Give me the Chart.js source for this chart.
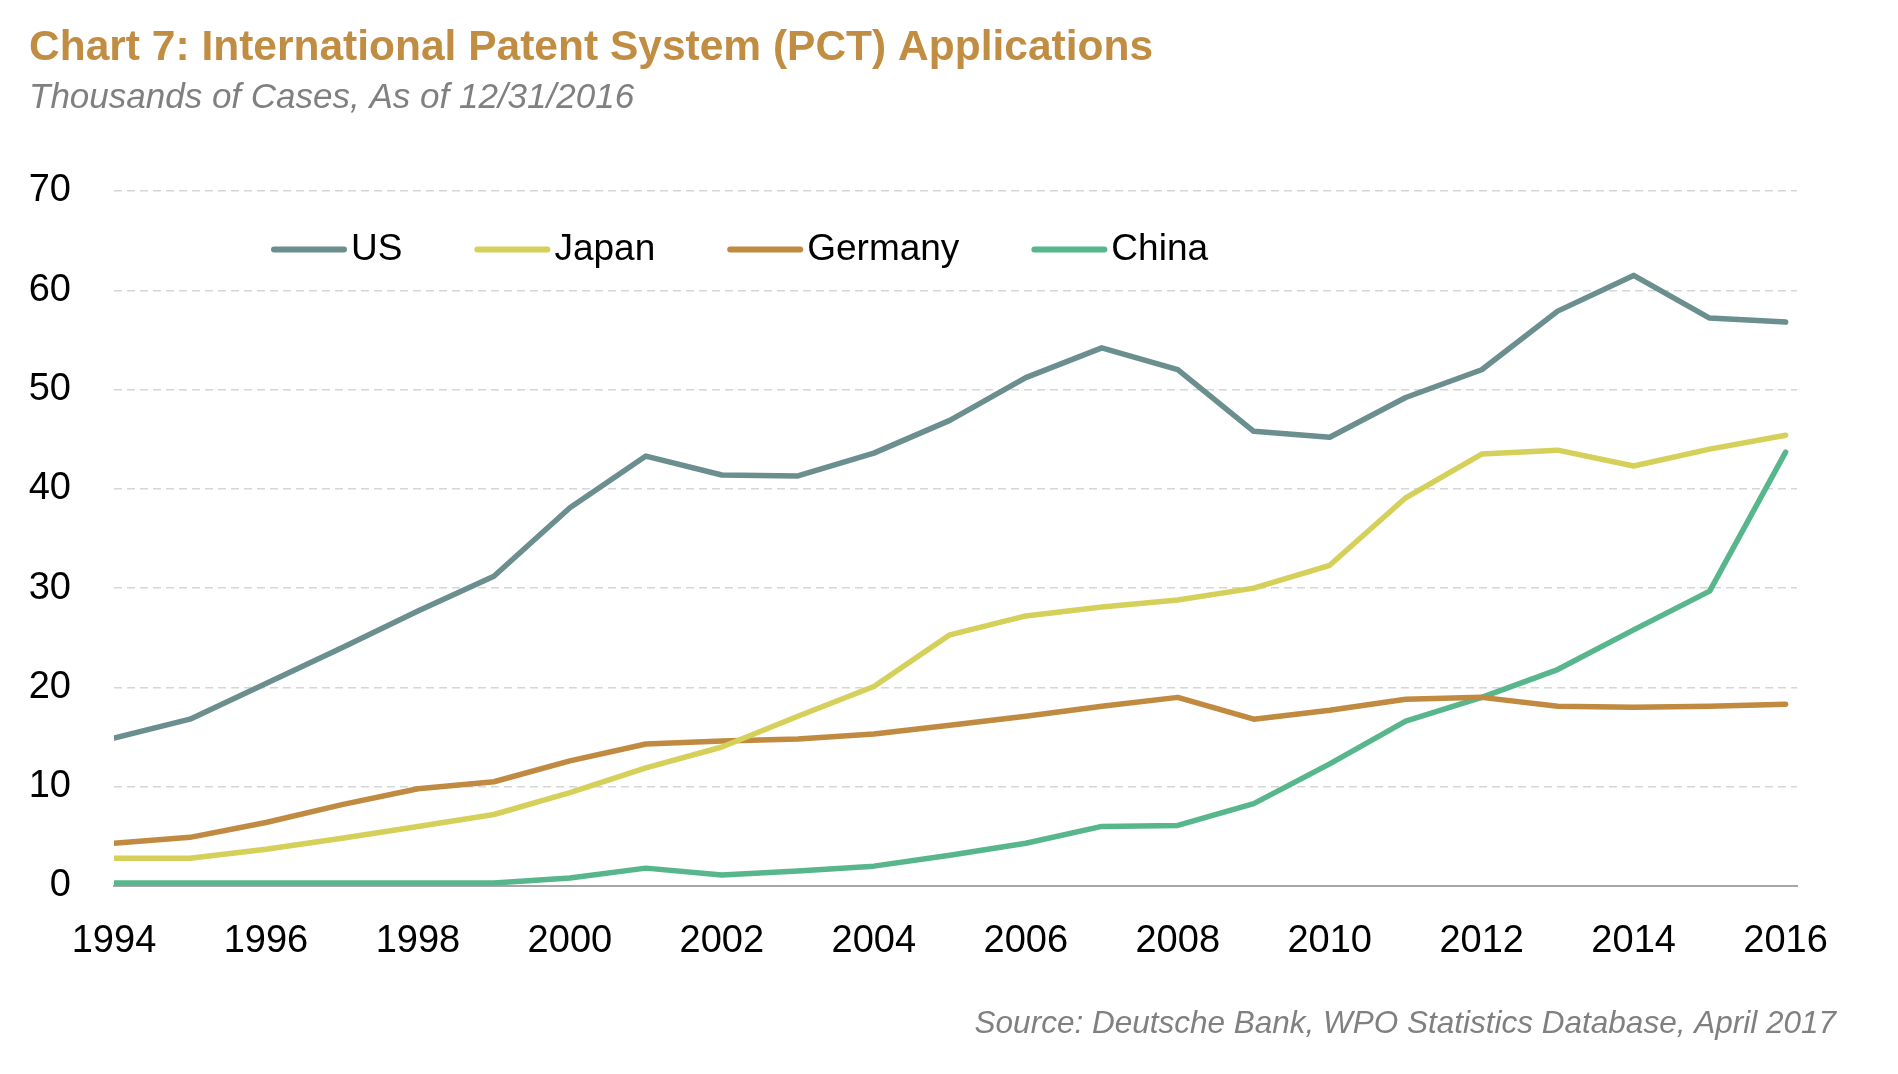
<!DOCTYPE html>
<html>
<head>
<meta charset="utf-8">
<title>PCT Applications</title>
<script src="https://cdn.jsdelivr.net/npm/chart.js@4.4.1/dist/chart.umd.min.js"></script>
<style>
  html, body { margin: 0; padding: 0; background: #fff; }
  #wrap { width: 1898px; height: 1074px; position: relative; }
</style>
</head>
<body>
<div id="wrap"><canvas id="lineChart"></canvas></div>
<script>
const years = [1994, 1995, 1996, 1997, 1998, 1999, 2000, 2001, 2002, 2003, 2004, 2005,
    2006, 2007, 2008, 2009, 2010, 2011, 2012, 2013, 2014, 2015, 2016];

const us = [14.9, 16.8, 20.4, 24.0, 27.7, 31.2, 38.1, 43.3, 41.4, 41.3, 43.6, 46.9,
    51.2, 54.2, 52.0, 45.8, 45.2, 49.2, 52.0, 57.9, 61.5, 57.2, 56.8];
const japan = [2.8, 2.8, 3.7, 4.8, 6.0, 7.2, 9.4, 11.9, 14.0, 17.1, 20.1, 25.3,
    27.2, 28.1, 28.8, 30.0, 32.3, 39.1, 43.5, 43.9, 42.3, 44.0, 45.4];
const germany = [4.3, 4.9, 6.4, 8.2, 9.8, 10.5, 12.6, 14.3, 14.6, 14.8, 15.3, 16.2,
    17.1, 18.1, 19.0, 16.8, 17.7, 18.8, 19.0, 18.1, 18.0, 18.1, 18.3];
const china = [0.3, 0.3, 0.3, 0.3, 0.3, 0.3, 0.8, 1.8, 1.1, 1.5, 2.0, 3.1,
    4.3, 6.0, 6.1, 8.3, 12.3, 16.6, 19.0, 21.8, 25.8, 29.7, 43.7];

const xTicks = [1994, 1996, 1998, 2000, 2002, 2004, 2006, 2008, 2010, 2012, 2014, 2016];
const yTicks = [0, 10, 20, 30, 40, 50, 60, 70];

const titleText = 'Chart 7: International Patent System (PCT) Applications';
const subtitleText = 'Thousands of Cases, As of 12/31/2016';
const sourceText = 'Source: Deutsche Bank, WPO Statistics Database, April 2017';

const FONT = '"Liberation Sans", Arial, sans-serif';
Chart.defaults.font.family = FONT;

function pairs(values) {
    return values.map((v, i) => ({ x: years[i], y: v }));
}

// legend sits inside the plot, between the 70 and 60 lines
const insideLegend = {
    id: 'insideLegend',
    afterDraw(chart) {
        const ctx = chart.ctx;
        const y = chart.scales.y.getPixelForValue(64.1);
        let x = chart.chartArea.left + 157;
        ctx.save();
        ctx.font = '37px ' + FONT;
        ctx.textBaseline = 'middle';
        ctx.textAlign = 'left';
        chart.data.datasets.forEach(ds => {
            ctx.strokeStyle = ds.borderColor;
            ctx.lineWidth = 6;
            ctx.lineCap = 'round';
            ctx.beginPath();
            ctx.moveTo(x + 3, y);
            ctx.lineTo(x + 73, y);
            ctx.stroke();
            x += 80;
            ctx.fillStyle = '#000';
            ctx.fillText(ds.label, x, y);
            x += ctx.measureText(ds.label).width + 72;
        });
        ctx.restore();
    }
};

const sourceNote = {
    id: 'sourceNote',
    afterDraw(chart) {
        const ctx = chart.ctx;
        ctx.save();
        ctx.font = 'italic 31.5px ' + FONT;
        ctx.fillStyle = '#808080';
        ctx.textAlign = 'right';
        ctx.textBaseline = 'middle';
        ctx.fillText(sourceText, chart.width - 62, chart.height - 50);
        ctx.restore();
    }
};

const lineChart = document.getElementById('lineChart');

new Chart(lineChart, {
    type: 'line',
    data: {
        datasets: [
            { label: 'US', data: pairs(us), borderColor: '#6B8E8E' },
            { label: 'Japan', data: pairs(japan), borderColor: '#D4D05A' },
            { label: 'Germany', data: pairs(germany), borderColor: '#C08A40' },
            { label: 'China', data: pairs(china), borderColor: '#57B68C' }
        ]
    },
    options: {
        responsive: true,
        maintainAspectRatio: false,
        animation: false,
        elements: {
            line: { borderWidth: 5.5, tension: 0, borderCapStyle: 'round', borderJoinStyle: 'round' },
            point: { radius: 0, hoverRadius: 0 }
        },
        layout: { padding: { top: 23, left: 29, right: 101, bottom: 111 } },
        plugins: {
            legend: { display: false },
            tooltip: { enabled: false },
            title: {
                display: true,
                text: titleText,
                align: 'start',
                color: '#C18D42',
                font: { size: 42.5, weight: 'bold' },
                padding: { top: 0, bottom: 0 }
            },
            subtitle: {
                display: true,
                text: subtitleText,
                align: 'start',
                color: '#808080',
                font: { size: 35, style: 'italic' },
                padding: { top: 3, bottom: 72 }
            }
        },
        scales: {
            x: {
                type: 'linear',
                min: 1994,
                max: 2016.15,
                afterBuildTicks: axis => { axis.ticks = xTicks.map(v => ({ value: v })); },
                afterFit: axis => { axis.height = 77; },
                grid: { display: false, drawTicks: false },
                border: { display: true, color: '#A6A6A6', width: 2 },
                ticks: {
                    color: '#000',
                    font: { size: 38 },
                    padding: 33,
                    maxRotation: 0,
                    autoSkip: false,
                    callback: v => String(v)
                }
            },
            y: {
                min: 0,
                max: 70,
                afterBuildTicks: axis => { axis.ticks = yTicks.map(v => ({ value: v })); },
                afterFit: axis => { axis.width = 85; },
                grid: {
                    drawTicks: false,
                    lineWidth: 1.5,
                    color: c => (c.tick && c.tick.value === 0) ? 'rgba(0,0,0,0)' : '#D6D6D6'
                },
                border: { display: false, dash: [8, 5] },
                ticks: {
                    color: '#000',
                    font: { size: 38 },
                    padding: 43
                }
            }
        }
    },
    plugins: [insideLegend, sourceNote]
});
</script>
</body>
</html>
